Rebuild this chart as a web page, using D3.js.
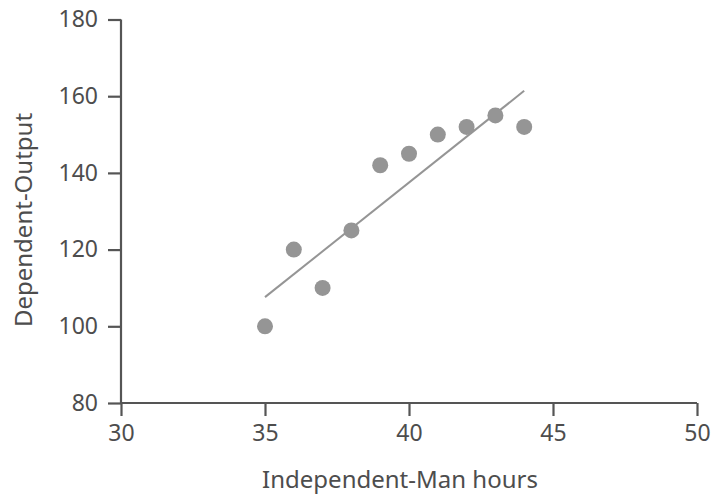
<!DOCTYPE html>
<html>
<head>
<meta charset="utf-8">
<script src="https://cdn.jsdelivr.net/npm/d3@7"></script>
<style>
  body { margin: 0; background: #fff; }
  svg text { font-family: "Noto Sans", sans-serif; fill: #4d4d4d; }
</style>
</head>
<body>
<svg></svg>
<script>
// data
let hours = [35, 36, 37, 38, 39, 40, 41, 42, 43, 44]
let output = [100, 120, 110, 125, 142, 145, 150, 152, 155, 152]
let trendX = [35, 44]
let trendY = [107.6, 161.4]
let xTicks = [30, 35, 40, 45, 50]
let yTicks = [80, 100, 120, 140, 160, 180]

let width = 715
let height = 498
let plotLeft = 121
let plotRight = 697
let plotTop = 19.5
let plotBottom = 403

let svg = d3.select('svg')
    .attr('width', width)
    .attr('height', height)

let xScale = d3.scaleLinear().domain([30, 50]).range([plotLeft, plotRight])
let yScale = d3.scaleLinear().domain([80, 180]).range([plotBottom, plotTop])

let axisColor = '#555'
let dotColor = '#959595'

let xAxis = d3.axisBottom(xScale).tickValues(xTicks).tickSize(13).tickPadding(9)
let yAxis = d3.axisLeft(yScale).tickValues(yTicks).tickSize(13).tickPadding(10)

let gx = svg.append('g')
    .attr('transform', 'translate(0,' + plotBottom + ')')
    .call(xAxis)
let gy = svg.append('g')
    .attr('transform', 'translate(' + plotLeft + ',0)')
    .call(yAxis)

;[gx, gy].forEach(g => {
    g.select('.domain').attr('stroke', axisColor).attr('stroke-width', 2.2)
    g.selectAll('.tick line').attr('stroke', axisColor).attr('stroke-width', 2.2)
    g.selectAll('.tick text').style('font-size', '23px').style('fill', '#4d4d4d')
})
// plain axis lines without the end caps
gx.select('.domain').attr('d', 'M' + plotLeft + ',0H' + plotRight)
gy.select('.domain').attr('d', 'M0,' + plotBottom + 'V' + plotTop)

// trend line
svg.append('line')
    .attr('x1', xScale(trendX[0]))
    .attr('y1', yScale(trendY[0]))
    .attr('x2', xScale(trendX[1]))
    .attr('y2', yScale(trendY[1]))
    .attr('stroke', dotColor)
    .attr('stroke-width', 2)

// dots
svg.selectAll('circle')
    .data(hours)
    .enter()
    .append('circle')
    .attr('cx', d => xScale(d))
    .attr('cy', (d, i) => yScale(output[i]))
    .attr('r', 8)
    .attr('fill', dotColor)

// axis titles
svg.append('text')
    .attr('x', 400)
    .attr('y', 488)
    .attr('text-anchor', 'middle')
    .style('font-size', '24px')
    .text('Independent-Man hours')

svg.append('text')
    .attr('transform', 'translate(32,220) rotate(-90)')
    .attr('text-anchor', 'middle')
    .style('font-size', '24px')
    .text('Dependent-Output')
</script>
</body>
</html>
